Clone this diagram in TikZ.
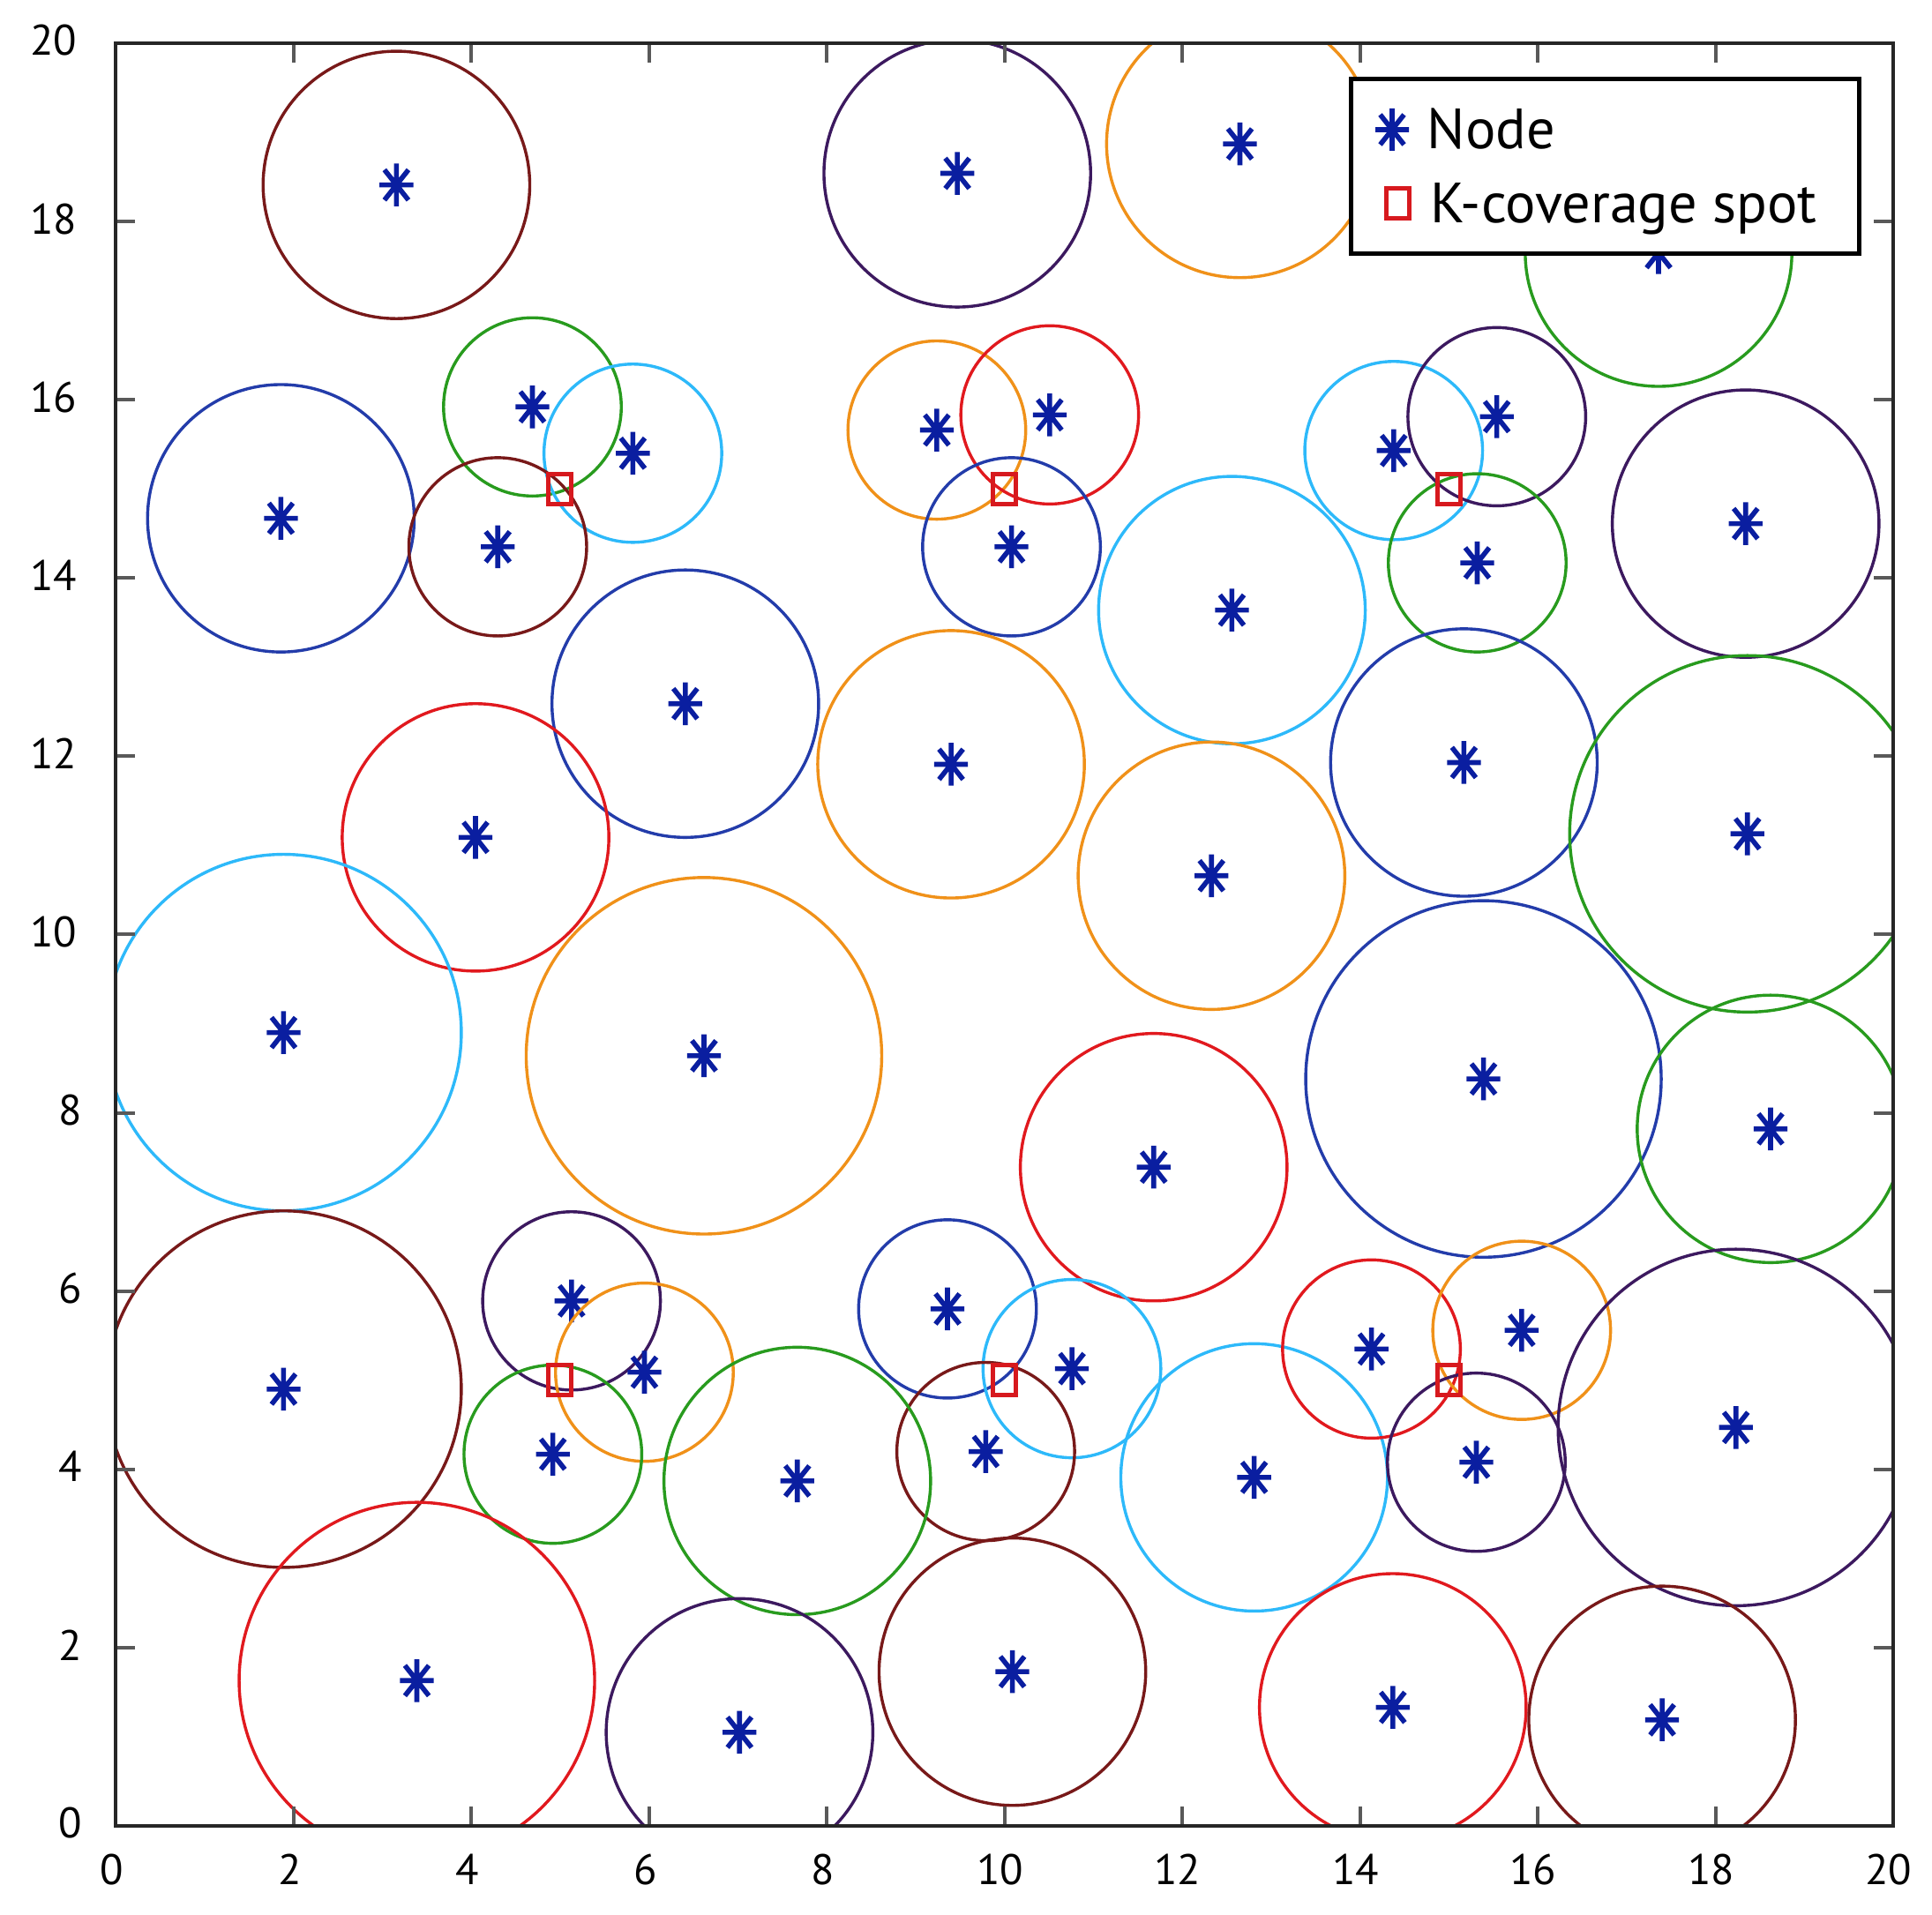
\documentclass[tikz,border=0pt]{standalone}
\usepackage{fontspec}
\setmainfont{PT Sans}
\definecolor{cB}{RGB}{35,60,170}
\definecolor{cC}{RGB}{45,185,250}
\definecolor{cR}{RGB}{225,25,30}
\definecolor{cO}{RGB}{240,145,25}
\definecolor{cG}{RGB}{40,155,30}
\definecolor{cM}{RGB}{120,25,25}
\definecolor{cP}{RGB}{60,25,95}
\definecolor{astc}{RGB}{10,30,160}
\definecolor{sqc}{RGB}{215,25,30}
\tikzset{
  circ/.style={line width=0.034cm},
  ast/.pic={\draw[astc, line width=0.056cm]
     (-0.19,0)--(0.19,0) (0,-0.24)--(0,0.24)
     (-0.135,-0.17)--(0.135,0.17) (-0.135,0.17)--(0.135,-0.17);},
  spot/.pic={\draw[sqc, line width=0.05cm] (-0.13,-0.17) rectangle (0.13,0.17);},
  tickmark/.style={black!65, line width=0.04cm},
  axisline/.style={black!85, line width=0.042cm},
  ticklab/.style={font=\fontsize{13.8}{16}\selectfont, inner sep=0pt, text=black},
  legtext/.style={font=\fontsize{18.3}{20}\selectfont, inner sep=0pt, anchor=base west, text=black}
}
\begin{document}
\begin{tikzpicture}
\useasboundingbox (0,0) rectangle (21.90,21.71);
\fill[white] (0,0) rectangle (21.90,21.71);
\begin{scope}[shift={(1.31,1.01)}, x=1.0075cm, y=1.0105cm]
  \begin{scope}
    \clip (0,0) rectangle (20,20);
    \foreach \px/\py/\rr/\cc in {
      3.16/18.41/1.5/cM, 9.47/18.54/1.5/cP, 12.65/18.87/1.5/cO, 17.36/17.65/1.5/cG,
      4.69/15.92/1/cG, 5.82/15.40/1/cC, 1.86/14.67/1.5/cB, 4.30/14.35/1/cM,
      9.24/15.66/1/cO, 10.51/15.83/1/cR, 10.08/14.35/1/cB, 14.38/15.43/1/cC,
      15.54/15.81/1/cP, 15.32/14.17/1/cG, 18.34/14.61/1.5/cP, 6.41/12.59/1.5/cB,
      12.56/13.64/1.5/cC, 9.40/11.91/1.5/cO, 15.17/11.93/1.5/cB, 4.05/11.09/1.5/cR,
      18.36/11.13/2/cG, 12.33/10.66/1.5/cO, 1.89/8.90/2/cC, 6.62/8.64/2/cO,
      15.39/8.38/2/cB, 18.62/7.82/1.5/cG, 11.68/7.39/1.5/cR, 5.13/5.89/1/cP,
      5.95/5.09/1/cO, 1.89/4.90/2/cM, 4.92/4.17/1/cG, 9.36/5.80/1/cB,
      10.76/5.13/1/cC, 9.79/4.20/1/cM, 7.67/3.87/1.5/cG, 12.81/3.91/1.5/cC,
      14.13/5.35/1/cR, 15.82/5.56/1/cO, 15.31/4.08/1/cP, 18.23/4.47/2/cP,
      3.39/1.63/2/cR, 7.02/1.05/1.5/cP, 10.09/1.73/1.5/cM, 14.37/1.33/1.5/cR,
      17.40/1.19/1.5/cM}
    {
      \draw[circ, draw=\cc] (\px,\py) circle [radius=\rr];
      \pic at (\px,\py) {ast};
    }
  \end{scope}
  \foreach \px/\py in {5/15, 10/15, 15/15, 5/5, 10/5, 15/5}
    \pic at (\px,\py) {spot};
  % ticks
  \foreach \t in {2,4,...,18} {
    \draw[tickmark] (\t,0) -- ++(0,0.22);
    \draw[tickmark] (\t,20) -- ++(0,-0.22);
    \draw[tickmark] (0,\t) -- ++(0.22,0);
    \draw[tickmark] (20,\t) -- ++(-0.22,0);
  }
  \draw[axisline] (0,0) rectangle (20,20);
  % tick labels
  \foreach \t in {0,2,4,6,8} {
    \node[ticklab] (xl\t) at (\t-0.04,-0.49) {\t};
    \node[ticklab] (yl\t) at (-0.506,\t+0.03) {\t};
  }
  \foreach \t in {10,12,14,16,18,20} {
    \node[ticklab] (xl\t) at (\t-0.05,-0.49) {\t};
    \node[ticklab] (yl\t) at (-0.695,\t+0.03) {\t};
  }
\end{scope}
% legend
\draw[fill=white, draw=black, line width=0.05cm] (15.31,18.83) rectangle (21.07,20.81);
\pic at (15.78,20.24) {ast};
\node[legtext] (lnode) at (16.17,20.02) {Node};
\pic at (15.84,19.40) {spot};
\node[legtext] (lspot) at (16.21,19.18) {K-coverage spot};
\end{tikzpicture}
\end{document}
